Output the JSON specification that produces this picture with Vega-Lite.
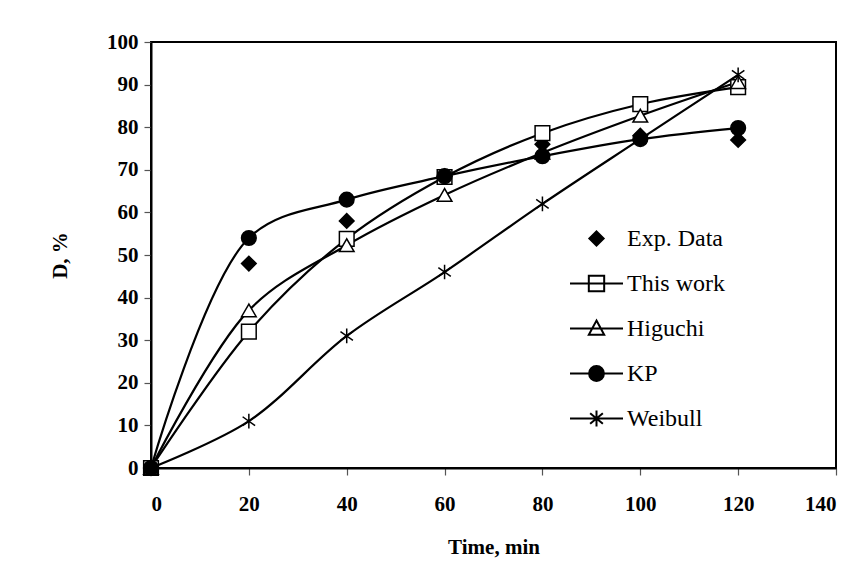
{
  "$schema": "https://vega.github.io/schema/vega-lite/v6.json",
  "width": 685,
  "height": 426,
  "autosize": "none",
  "padding": {"left": 151, "top": 42, "right": 25, "bottom": 108},
  "background": "white",
  "config": {
    "view": {"stroke": "black", "strokeWidth": 2},
    "font": "Liberation Serif",
    "axis": {
      "grid": false,
      "domainColor": "black",
      "domainWidth": 2,
      "tickColor": "#555",
      "tickWidth": 1.2,
      "tickSize": 7,
      "labelFont": "Liberation Serif",
      "labelFontWeight": "bold",
      "labelFontSize": 21,
      "labelColor": "black",
      "titleFont": "Liberation Serif",
      "titleFontWeight": "bold",
      "titleFontSize": 21,
      "titleColor": "black"
    }
  },
  "data": {
    "values": [
      {"t": 0, "series": "Exp. Data", "D": 0},
      {"t": 20, "series": "Exp. Data", "D": 48},
      {"t": 40, "series": "Exp. Data", "D": 58},
      {"t": 60, "series": "Exp. Data", "D": 68.5},
      {"t": 80, "series": "Exp. Data", "D": 76},
      {"t": 100, "series": "Exp. Data", "D": 78},
      {"t": 120, "series": "Exp. Data", "D": 77},
      {"t": 0, "series": "This work", "D": 0},
      {"t": 20, "series": "This work", "D": 32},
      {"t": 40, "series": "This work", "D": 53.8},
      {"t": 60, "series": "This work", "D": 68.3},
      {"t": 80, "series": "This work", "D": 78.6},
      {"t": 100, "series": "This work", "D": 85.4},
      {"t": 120, "series": "This work", "D": 89.4},
      {"t": 0, "series": "Higuchi", "D": 0},
      {"t": 20, "series": "Higuchi", "D": 37},
      {"t": 40, "series": "Higuchi", "D": 52.3},
      {"t": 60, "series": "Higuchi", "D": 64.1},
      {"t": 80, "series": "Higuchi", "D": 74},
      {"t": 100, "series": "Higuchi", "D": 82.7},
      {"t": 120, "series": "Higuchi", "D": 90.6},
      {"t": 0, "series": "KP", "D": 0},
      {"t": 20, "series": "KP", "D": 54},
      {"t": 40, "series": "KP", "D": 63},
      {"t": 60, "series": "KP", "D": 68.5},
      {"t": 80, "series": "KP", "D": 73.2},
      {"t": 100, "series": "KP", "D": 77.2},
      {"t": 120, "series": "KP", "D": 79.8},
      {"t": 0, "series": "Weibull", "D": 0},
      {"t": 20, "series": "Weibull", "D": 11},
      {"t": 40, "series": "Weibull", "D": 31},
      {"t": 60, "series": "Weibull", "D": 46},
      {"t": 80, "series": "Weibull", "D": 62},
      {"t": 100, "series": "Weibull", "D": 77.2},
      {"t": 120, "series": "Weibull", "D": 92.3}
    ]
  },
  "encoding": {
    "x": {
      "field": "t", "type": "quantitative",
      "scale": {"domain": [0, 140], "nice": false},
      "axis": {"values": [0, 20, 40, 60, 80, 100, 120, 140], "title": "Time, min", "labelPadding": 18, "titlePadding": 22}
    },
    "y": {
      "field": "D", "type": "quantitative",
      "scale": {"domain": [0, 100], "nice": false},
      "axis": {"values": [0, 10, 20, 30, 40, 50, 60, 70, 80, 90, 100], "title": "D, %", "labelPadding": 6, "titlePadding": 36}
    }
  },
  "layer": [
    {
      "transform": [{"filter": "datum.series !== 'Exp. Data'"}],
      "mark": {"type": "line", "interpolate": "catmull-rom", "color": "black", "strokeWidth": 2.2},
      "encoding": {"detail": {"field": "series"}}
    },
    {
      "transform": [{"filter": "false"}],
      "mark": {"type": "point", "strokeWidth": 2, "opacity": 1},
      "encoding": {
        "shape": {
          "field": "series", "type": "nominal",
          "scale": {
            "domain": ["Exp. Data", "This work", "Higuchi", "KP", "Weibull"],
            "range": ["M0,-0.27L0.27,0L0,0.27L-0.27,0Z", "M-1,0H1M-0.29,-0.29H0.29V0.29H-0.29Z", "M-1,0H1M0,-0.3L0.29,0.24H-0.29Z", "M-1,0H1M-0.28,0A0.28,0.28 0 1,1 0.28,0A0.28,0.28 0 1,1 -0.28,0Z", "M-1,0H1M0,-0.3V0.3M-0.24,-0.2L0.24,0.2M-0.24,0.2L0.24,-0.2"]
          },
          "legend": {
            "title": null,
            "orient": "none",
            "legendX": 418,
            "legendY": 169,
            "padding": 0,
            "symbolSize": 2809,
            "symbolStrokeWidth": 2,
            "symbolOpacity": 1,
            "labelFont": "Liberation Serif",
            "labelFontSize": 24,
            "labelColor": "black",
            "labelOffset": 3,
            "rowPadding": 5
          }
        },
        "fill": {
          "field": "series", "type": "nominal",
          "scale": {
            "domain": ["Exp. Data", "This work", "Higuchi", "KP", "Weibull"],
            "range": ["black", "white", "white", "black", "white"]
          }
        },
        "stroke": {
          "field": "series", "type": "nominal",
          "scale": {
            "domain": ["Exp. Data", "This work", "Higuchi", "KP", "Weibull"],
            "range": ["black", "black", "black", "black", "black"]
          }
        }
      }
    },
    {
      "mark": {"type": "point", "strokeWidth": 1.5, "opacity": 1, "size": 215, "stroke": "black"},
      "encoding": {
        "shape": {
          "field": "series", "type": "nominal",
          "scale": {
            "domain": ["Exp. Data", "This work", "Higuchi", "KP", "Weibull"],
            "range": ["diamond", "square", "triangle-up", "circle", "M0,-1V1M-0.85,-0.6L0.85,0.6M-0.85,0.6L0.85,-0.6"]
          },
          "legend": null
        },
        "fill": {
          "condition": {"test": "datum.series === 'Exp. Data' || datum.series === 'KP'", "value": "black"},
          "value": "white"
        }
      }
    }
  ],
  "resolve": {"scale": {"shape": "independent", "fill": "independent", "stroke": "independent"}}
}
